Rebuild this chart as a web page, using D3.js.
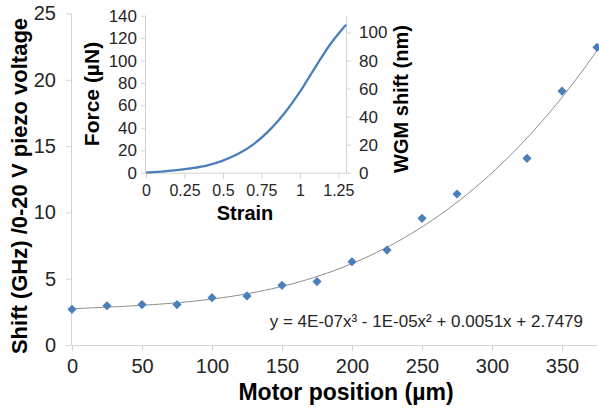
<!DOCTYPE html>
<html>
<head>
<meta charset="utf-8">
<script src="https://cdn.jsdelivr.net/npm/d3@7"></script>
<style>
    body { margin: 0; background: #fff; }
    svg { display: block; font-family: 'Liberation Sans', Arial, sans-serif; }
</style>
</head>
<body>
<svg width="599" height="408"></svg>
<script>
// main chart: shift vs motor position
const motorPos = [0, 25, 50, 75, 100, 125, 150, 175, 200, 225, 250, 275, 325, 350, 375];
const shiftGHz = [2.69, 2.96, 3.05, 3.05, 3.57, 3.7, 4.5, 4.78, 6.28, 7.16, 9.55, 11.39, 14.08, 19.15, 22.45];
const mainXTicks = [0, 50, 100, 150, 200, 250, 300, 350];
const mainYTicks = [0, 5, 10, 15, 20, 25];
const fitLabel = 'y = 4E-07x³ - 1E-05x² + 0.0051x + 2.7479';

// inset: force vs strain
const strain = [0, 0.1, 0.2, 0.3, 0.4, 0.5, 0.6, 0.7, 0.8, 0.9, 1.0, 1.1, 1.2, 1.3];
const force = [0, 1.0, 2.2, 4.0, 6.6, 10.8, 16.8, 25.5, 37.5, 53, 72, 94, 115, 132];
const insetXTicks = [0, 0.25, 0.5, 0.75, 1, 1.25];
const forceTicks = [0, 20, 40, 60, 80, 100, 120, 140];
const wgmTicks = [0, 20, 40, 60, 80, 100];

const blue = '#4a7ebb';
const axisGrey = '#d4d4d4';
const labelCol = '#262626';

// least squares cubic, like the spreadsheet trendline
function cubicFit(xs, ys) {
    const n = 4;
    const A = [];
    for (let r = 0; r < n; r++) {
        A.push(new Array(n + 1).fill(0));
    }
    xs.forEach((x0, i) => {
        const x = x0 / 100;
        for (let r = 0; r < n; r++) {
            for (let c = 0; c < n; c++) A[r][c] += Math.pow(x, r + c);
            A[r][n] += ys[i] * Math.pow(x, r);
        }
    });
    for (let k = 0; k < n; k++) {
        let p = k;
        for (let r = k + 1; r < n; r++) if (Math.abs(A[r][k]) > Math.abs(A[p][k])) p = r;
        [A[k], A[p]] = [A[p], A[k]];
        for (let r = 0; r < n; r++) {
            if (r === k) continue;
            const f = A[r][k] / A[k][k];
            for (let c = k; c <= n; c++) A[r][c] -= f * A[k][c];
        }
    }
    const coef = A.map((row, i) => row[n] / row[i]);
    return (x0) => {
        const x = x0 / 100;
        return coef[0] + coef[1] * x + coef[2] * x * x + coef[3] * x * x * x;
    };
}

function renderChart() {
    const svg = d3.select('svg');

    const x = d3.scaleLinear().domain([0, 375]).range([72, 597]);
    const y = d3.scaleLinear().domain([0, 25]).range([345, 13.5]);

    // axes
    const xAxis = svg.append('g')
        .attr('transform', `translate(0,${y(0)})`)
        .call(d3.axisBottom(x).tickValues(mainXTicks).tickSize(6).tickPadding(8).tickFormat(d3.format('d')));
    const yAxis = svg.append('g')
        .attr('transform', `translate(${x(0)},0)`)
        .call(d3.axisLeft(y).tickValues(mainYTicks).tickSize(6).tickPadding(10).tickFormat(d3.format('d')));
    [xAxis, yAxis].forEach((g) => {
        g.select('.domain').attr('stroke', axisGrey);
        g.selectAll('line').attr('stroke', axisGrey);
        g.selectAll('text')
            .attr('fill', labelCol)
            .style('font-size', '20px')
            .style('font-family', "'Liberation Sans', Arial, sans-serif");
    });
    xAxis.select('.domain').attr('d', `M${x(0)},0.5H${x(375)}`);
    yAxis.select('.domain').attr('d', `M-0.5,${y(0)}V${y(25)}`);

    // trendline
    const fit = cubicFit(motorPos, shiftGHz);
    const fitPts = d3.range(0, 375.1, 2.5).map((v) => [v, fit(v)]);
    svg.append('path')
        .datum(fitPts)
        .attr('fill', 'none')
        .attr('stroke', '#8c8c8c')
        .attr('stroke-width', 1)
        .attr('d', d3.line().x((d) => x(d[0])).y((d) => y(d[1])));

    // markers
    svg.append('g')
        .selectAll('path')
        .data(motorPos.map((m, i) => [m, shiftGHz[i]]))
        .enter()
        .append('path')
        .attr('fill', blue)
        .attr('d', d3.symbol().type(d3.symbolSquare).size(42))
        .attr('transform', (d) => `translate(${x(d[0])},${y(d[1])}) rotate(45)`);

    svg.append('text')
        .attr('x', 583)
        .attr('y', 327)
        .attr('text-anchor', 'end')
        .attr('fill', labelCol)
        .style('font-size', '17px')
        .text(fitLabel);

    svg.append('text')
        .attr('x', 346)
        .attr('y', 400)
        .attr('text-anchor', 'middle')
        .style('font-size', '23px')
        .style('font-weight', 'bold')
        .text('Motor position (µm)');

    svg.append('text')
        .attr('transform', 'translate(27,186) rotate(-90)')
        .attr('text-anchor', 'middle')
        .style('font-size', '22px')
        .style('font-weight', 'bold')
        .text('Shift (GHz) /0-20 V piezo voltage');

    drawInset(svg);
}

function drawInset(svg) {
    const ix = d3.scaleLinear().domain([0, 1.3]).range([146, 346]);
    const iyL = d3.scaleLinear().domain([0, 140]).range([172.7, 15.7]);
    const iyR = d3.scaleLinear().domain([0, 112]).range([172.7, 15.7]);

    const fmt = (d) => String(d);
    const bottom = svg.append('g')
        .attr('transform', `translate(0,${iyL(0)})`)
        .call(d3.axisBottom(ix).tickValues(insetXTicks).tickSize(6).tickPadding(6).tickFormat(fmt));
    const left = svg.append('g')
        .attr('transform', `translate(${ix(0)},0)`)
        .call(d3.axisLeft(iyL).tickValues(forceTicks).tickSize(5).tickPadding(4).tickFormat(fmt));
    const right = svg.append('g')
        .attr('transform', `translate(${ix(1.3)},0)`)
        .call(d3.axisRight(iyR).tickValues(wgmTicks).tickSize(5).tickPadding(8).tickFormat(fmt));
    [bottom, left, right].forEach((g) => {
        g.select('.domain').attr('stroke', axisGrey);
        g.selectAll('line').attr('stroke', axisGrey);
        g.selectAll('text')
            .attr('fill', labelCol)
            .style('font-size', '17px')
            .style('font-family', "'Liberation Sans', Arial, sans-serif");
    });
    bottom.selectAll('text').style('font-size', '16px');
    bottom.select('.domain').attr('d', `M${ix(0)},0.5H${ix(1.3)}`);
    left.select('.domain').attr('d', `M-0.5,${iyL(0)}V${iyL(140)}`);
    right.select('.domain').attr('d', `M0.5,${iyL(0)}V${iyL(140)}`);

    svg.append('path')
        .datum(strain.map((s, i) => [s, force[i]]))
        .attr('fill', 'none')
        .attr('stroke', blue)
        .attr('stroke-width', 2.25)
        .attr('d', d3.line().curve(d3.curveMonotoneX).x((d) => ix(d[0])).y((d) => iyL(d[1])));

    svg.append('text')
        .attr('x', 245)
        .attr('y', 220)
        .attr('text-anchor', 'middle')
        .style('font-size', '20px')
        .style('font-weight', 'bold')
        .text('Strain');

    svg.append('text')
        .attr('transform', 'translate(99,94) rotate(-90)')
        .attr('text-anchor', 'middle')
        .style('font-size', '21px')
        .style('font-weight', 'bold')
        .text('Force (µN)');

    svg.append('text')
        .attr('transform', 'translate(408,99) rotate(-90)')
        .attr('text-anchor', 'middle')
        .style('font-size', '20px')
        .style('font-weight', 'bold')
        .text('WGM shift (nm)');
}

renderChart();
</script>
</body>
</html>
